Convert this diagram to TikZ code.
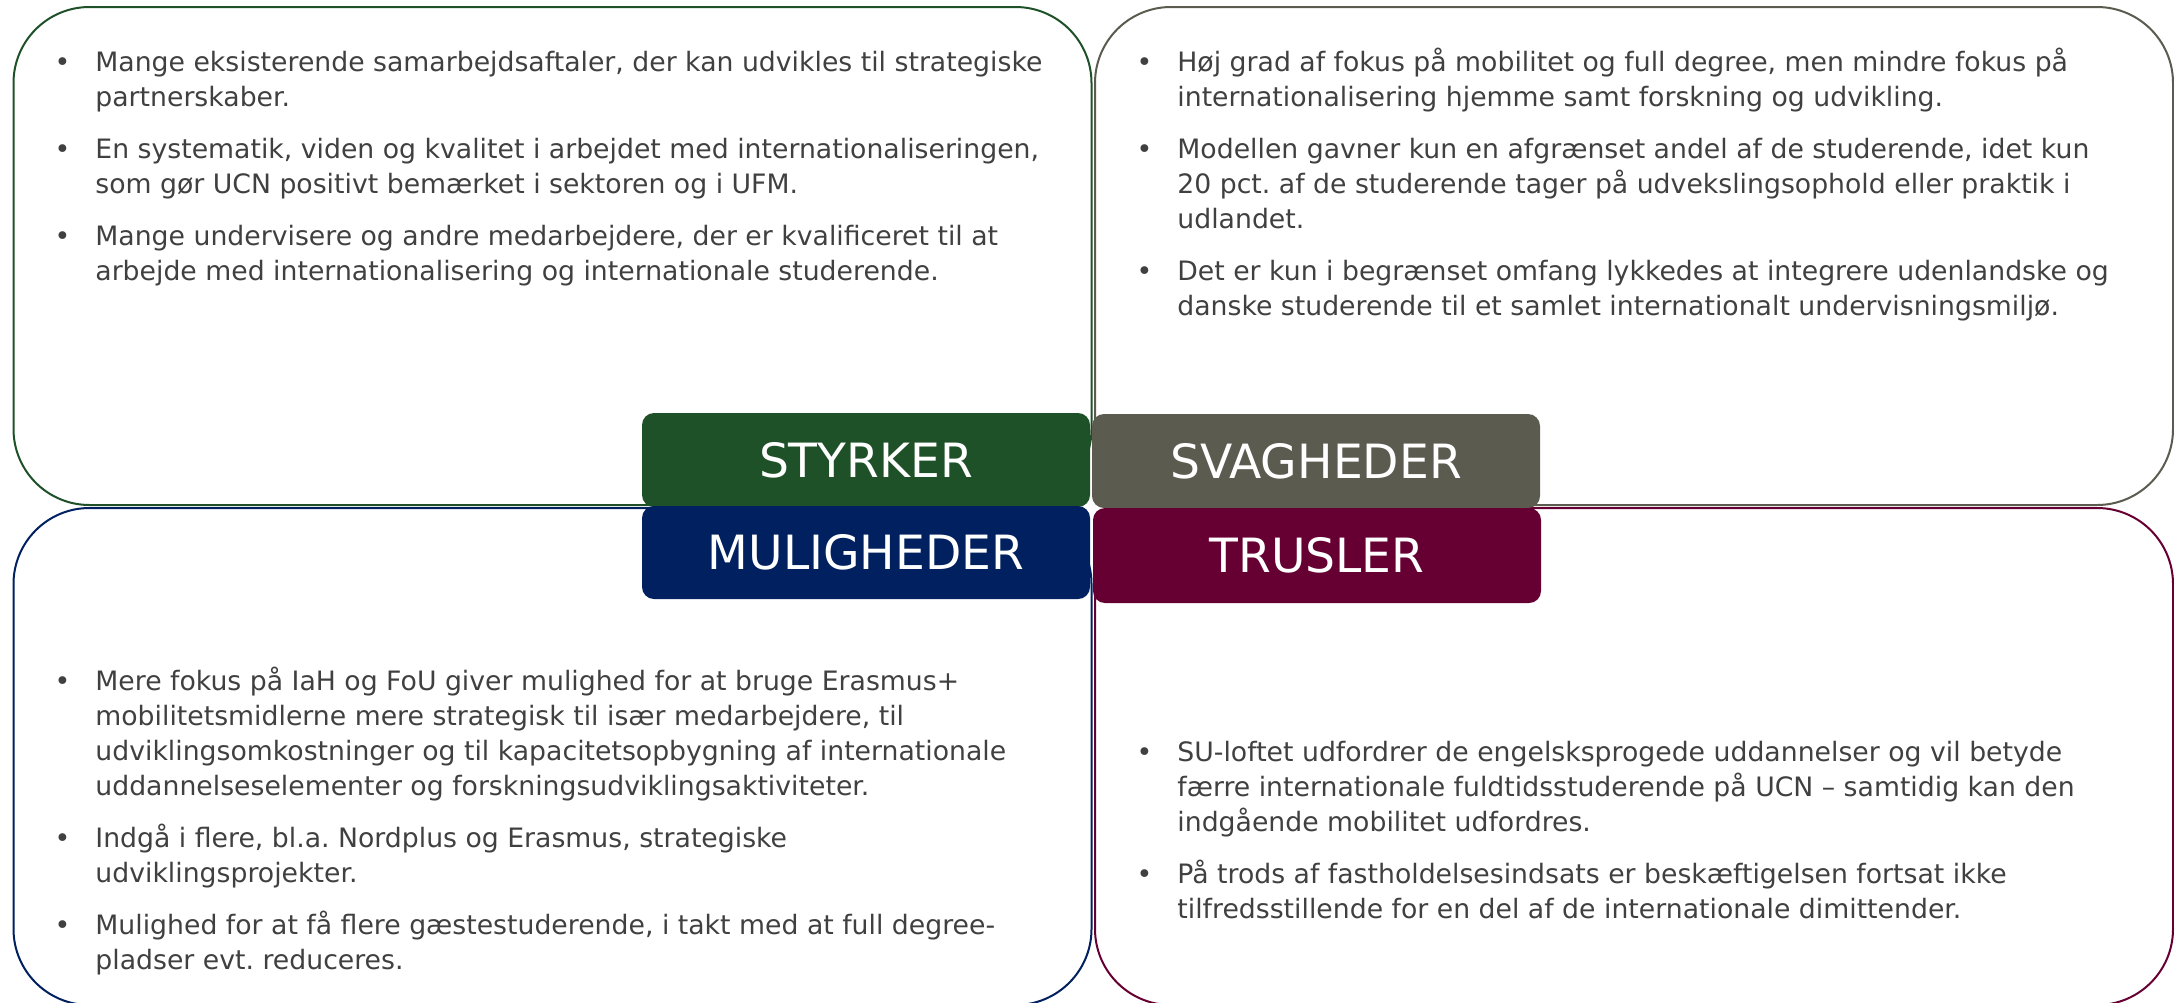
\documentclass[tikz,border=0pt]{standalone}
\usepackage{fontspec}
\setmainfont{DejaVu Sans}
\frenchspacing
\definecolor{styrk}{RGB}{31,81,41}
\definecolor{svag}{RGB}{92,91,79}
\definecolor{mulig}{RGB}{0,32,96}
\definecolor{trus}{RGB}{102,0,51}
\definecolor{tekst}{RGB}{64,64,64}
\newcommand{\pkt}{\par\leavevmode\llap{\makebox[20pt]{•}\hspace{6.5pt}}}
\newcommand{\punkter}[1]{\parbox[t]{520pt}{\raggedright\fontsize{13.35pt}{17.5pt}\selectfont\setlength{\parskip}{8.5pt}#1}}
\begin{document}
\begin{tikzpicture}[x=0.5pt,y=-0.5pt,
    kasse/.style={rounded corners=38pt,line width=1pt,minimum width=539pt,inner sep=0pt},
    lab/.style={rounded corners=6pt,text=white,minimum width=224pt,inner sep=0pt,font=\fontsize{23.6pt}{28pt}\selectfont},
    txt/.style={anchor=base west,inner sep=0pt,text=tekst}]
\useasboundingbox (0,0) rectangle (2174,1002);
% the four quadrants
\node[kasse,draw=styrk,minimum height=249pt](styrkbox) at (552.5,256){};
\node[kasse,draw=svag,minimum height=249pt](svagbox) at (1634,256){};
\node[kasse,draw=mulig,minimum height=248.5pt](muligbox) at (552.5,756.5){};
\node[kasse,draw=trus,minimum height=248.5pt](trusbox) at (1634,756.5){};
% headings
\node[lab,fill=styrk,minimum height=47pt](styrk) at (866,460){STYRKER};
\node[lab,fill=svag,minimum height=47pt](svag) at (1316,461){SVAGHEDER};
\node[lab,fill=mulig,minimum height=46.5pt](mulig) at (866,552.5){MULIGHEDER};
\node[lab,fill=trus,minimum height=47.5pt](trus) at (1317,555.5){TRUSLER};
% bullet texts
\node[txt](styrktxt) at (95,71){\punkter{%
\pkt Mange eksisterende samarbejdsaftaler, der kan udvikles til strategiske\\ partnerskaber.
\pkt En systematik, viden og kvalitet i arbejdet med internationaliseringen,\\ som gør UCN positivt bemærket i sektoren og i UFM.
\pkt Mange undervisere og andre medarbejdere, der er kvalificeret til at\\ arbejde med internationalisering og internationale studerende.}};
\node[txt](svagtxt) at (1177,71){\punkter{%
\pkt Høj grad af fokus på mobilitet og full degree, men mindre fokus på\\ internationalisering hjemme samt forskning og udvikling.
\pkt Modellen gavner kun en afgrænset andel af de studerende, idet kun\\ 20 pct. af de studerende tager på udvekslingsophold eller praktik i\\ udlandet.
\pkt Det er kun i begrænset omfang lykkedes at integrere udenlandske og\\ danske studerende til et samlet internationalt undervisningsmiljø.}};
\node[txt](muligtxt) at (95,690){\punkter{%
\pkt Mere fokus på IaH og FoU giver mulighed for at bruge Erasmus+\\ mobilitetsmidlerne mere strategisk til især medarbejdere, til\\ udviklingsomkostninger og til kapacitetsopbygning af internationale\\ uddannelseselementer og forskningsudviklingsaktiviteter.
\pkt Indgå i flere, bl.a. Nordplus og Erasmus, strategiske\\ udviklingsprojekter.
\pkt Mulighed for at få flere gæstestuderende, i takt med at full degree-\\ pladser evt. reduceres.}};
\node[txt](trustxt) at (1177,761){\punkter{%
\pkt SU-loftet udfordrer de engelsksprogede uddannelser og vil betyde\\ færre internationale fuldtidsstuderende på UCN – samtidig kan den\\ indgående mobilitet udfordres.
\pkt På trods af fastholdelsesindsats er beskæftigelsen fortsat ikke\\ tilfredsstillende for en del af de internationale dimittender.}};
\end{tikzpicture}
\end{document}
